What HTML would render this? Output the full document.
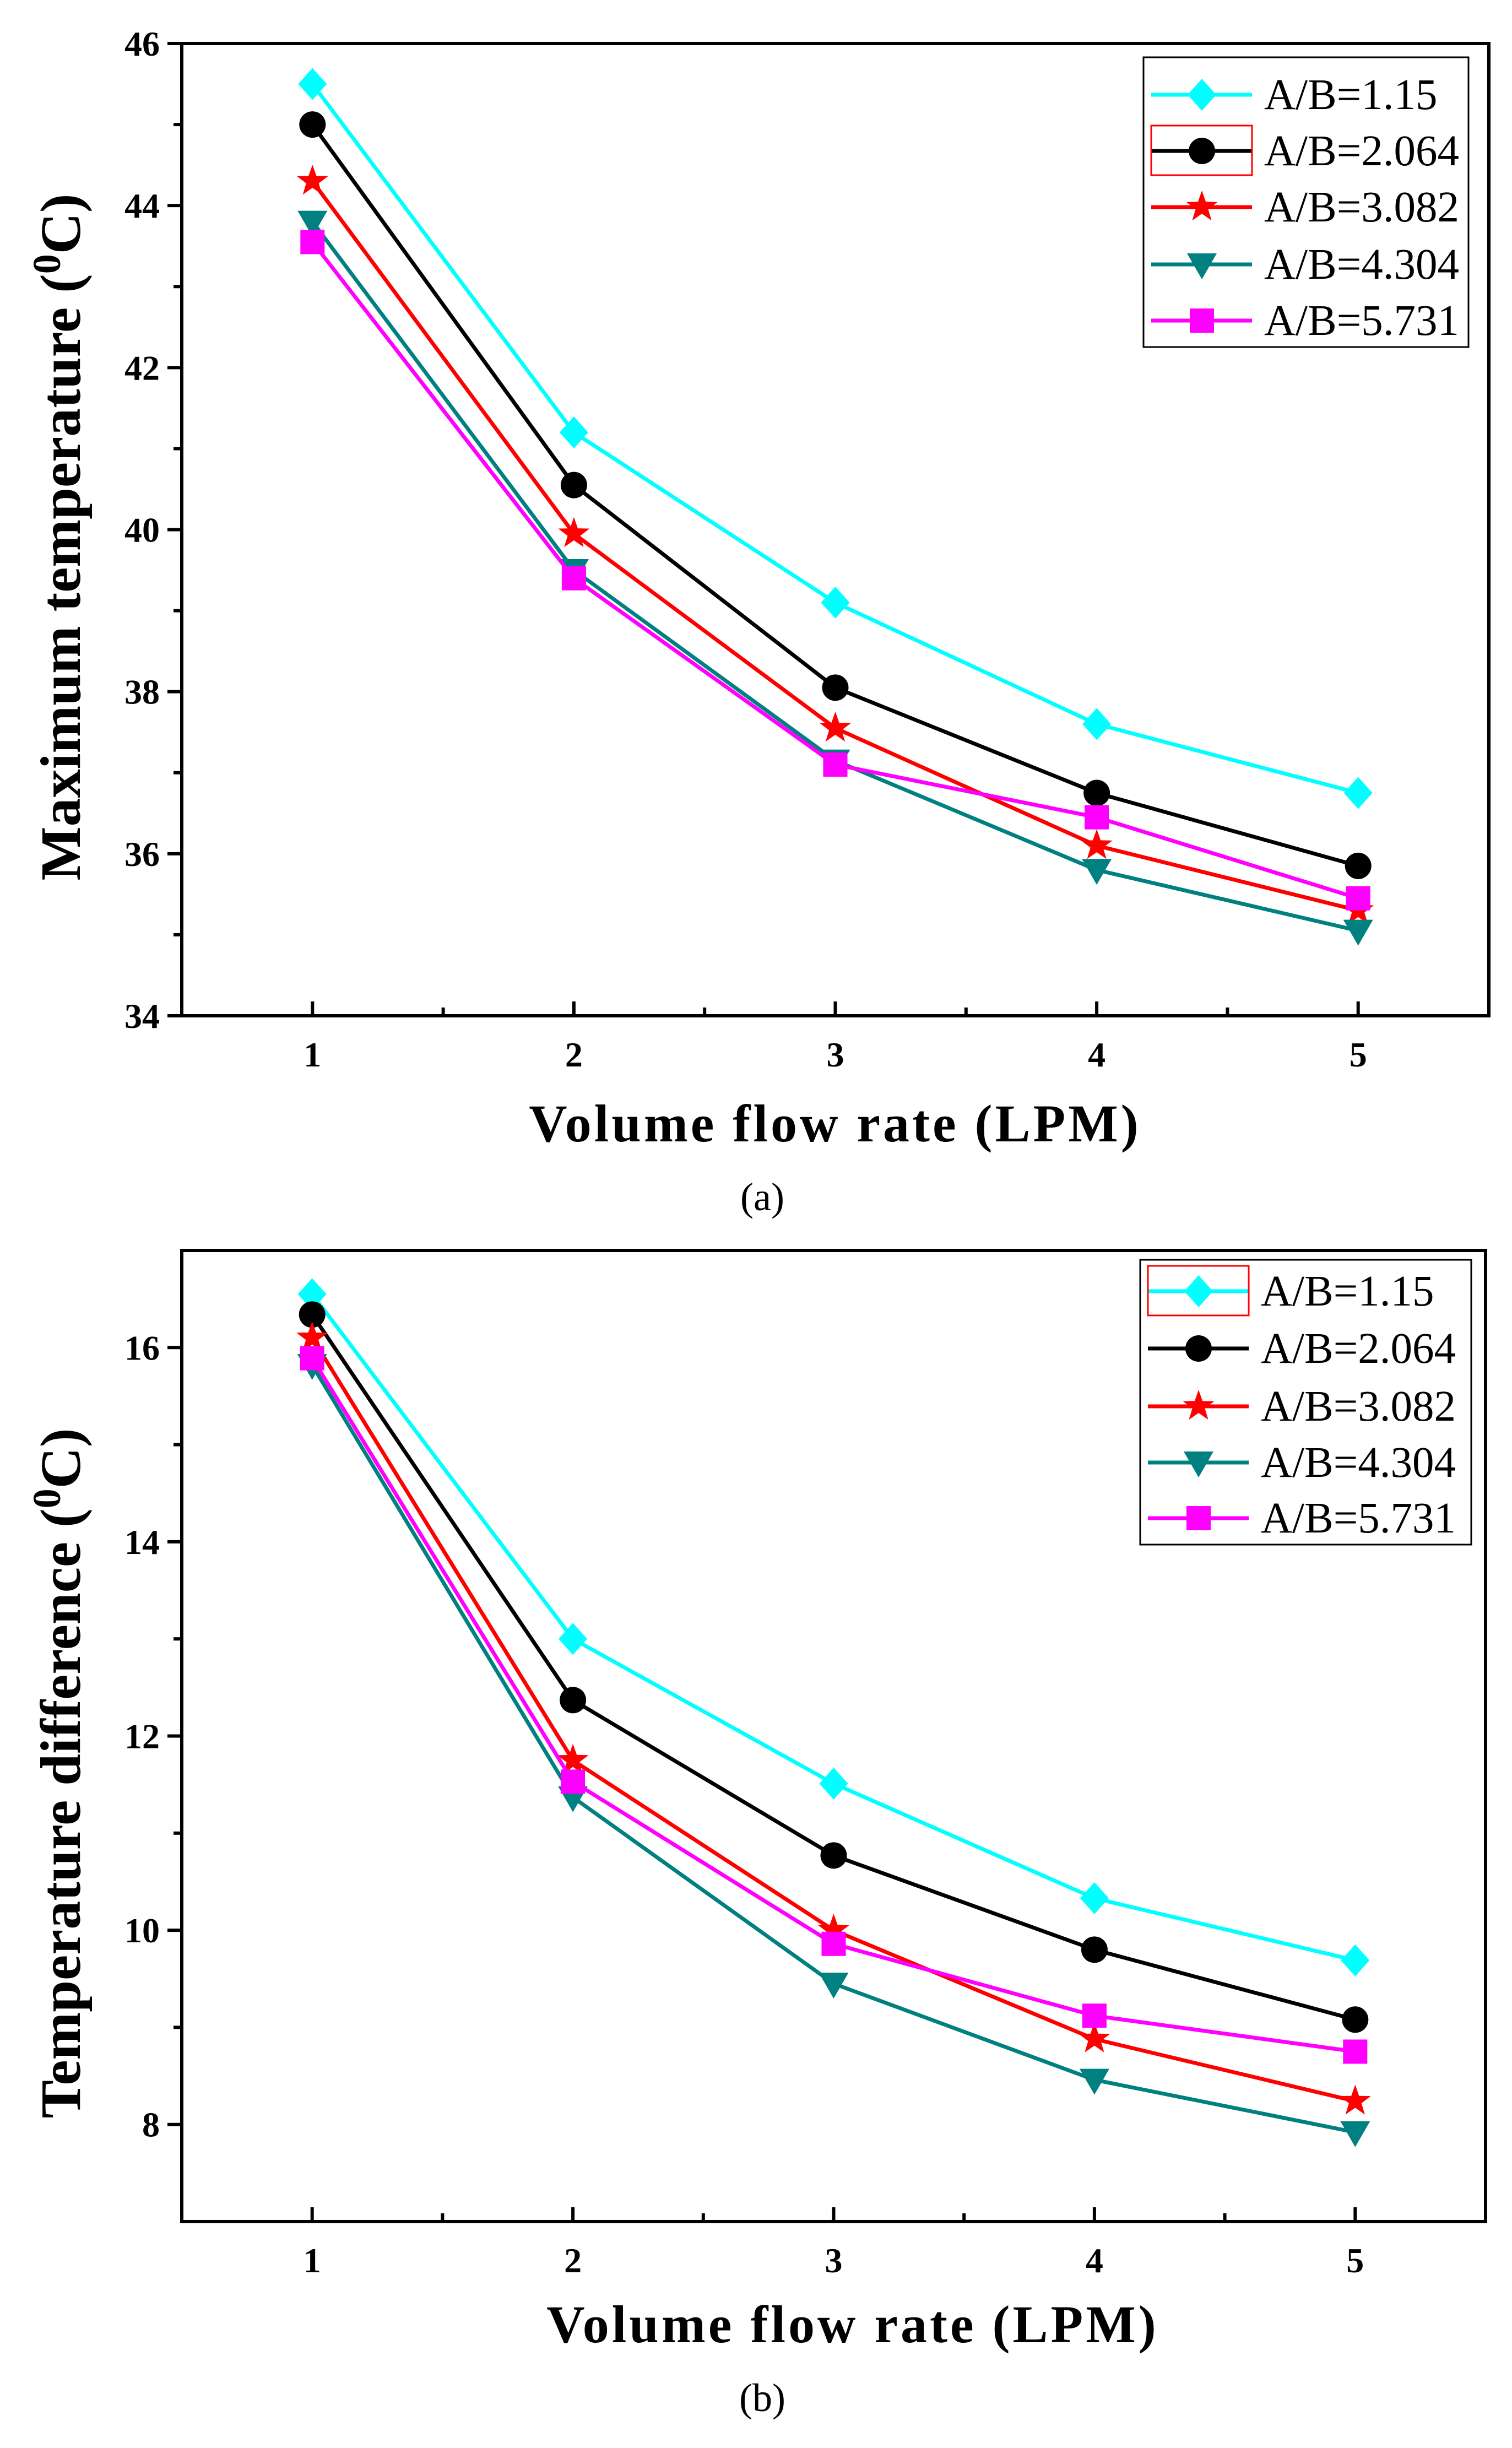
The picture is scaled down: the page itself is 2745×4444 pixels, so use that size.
<!DOCTYPE html>
<html><head><meta charset="utf-8">
<style>
html,body{margin:0;padding:0;background:#fff;}
svg{display:block;font-family:"Liberation Serif",serif;}
</style></head>
<body>
<svg id="fig" width="2745" height="4444" viewBox="0 0 2745 4444" xmlns="http://www.w3.org/2000/svg">
<rect x="0" y="0" width="2745" height="4444" fill="#fff"/>
</svg>
<script>
const categories = [1, 2, 3, 4, 5];
const seriesNames = ["A/B=1.15", "A/B=2.064", "A/B=3.082", "A/B=4.304", "A/B=5.731"];
const maxTempCyan = [45.5, 41.2, 39.1, 37.6, 36.75];
const maxTempBlack = [45.0, 40.55, 38.05, 36.75, 35.85];
const maxTempRed = [44.3, 39.95, 37.55, 36.1, 35.3];
const maxTempTeal = [43.8, 39.5, 37.15, 35.8, 35.05];
const maxTempMagenta = [43.55, 39.4, 37.1, 36.45, 35.45];
const diffCyan = [16.55, 13.0, 11.51, 10.33, 9.69];
const diffBlack = [16.34, 12.37, 10.77, 9.8, 9.08];
const diffRed = [16.1, 11.75, 10.0, 8.88, 8.24];
const diffTeal = [15.82, 11.37, 9.45, 8.46, 7.92];
const diffMagenta = [15.89, 11.53, 9.86, 9.12, 8.75];
const yTicksA = [34, 36, 38, 40, 42, 44, 46];
const yTicksB = [8, 10, 12, 14, 16];
const xTicks = [1, 2, 3, 4, 5];

const NS = "http://www.w3.org/2000/svg";
const svg = document.getElementById("fig");
function mk(tag, attrs, parent, text) {
  const e = document.createElementNS(NS, tag);
  for (const k in attrs) e.setAttribute(k, attrs[k]);
  if (text !== undefined) e.textContent = text;
  (parent || svg).appendChild(e);
  return e;
}
const colors = ["#00ffff", "#000000", "#ff0000", "#008080", "#ff00ff"];
const shapes = ["diamond", "circle", "star", "tri", "square"];

function marker(g, shape, cx, cy, color) {
  let el;
  const r = 29;
  if (shape === "diamond") el = mk("polygon", {points: `${cx},${cy-r} ${cx+r-3},${cy} ${cx},${cy+r} ${cx-r+3},${cy}`, fill: color}, g);
  else if (shape === "circle") el = mk("circle", {cx: cx, cy: cy, r: 24, fill: color}, g);
  else if (shape === "square") el = mk("rect", {x: cx-22, y: cy-22, width: 44, height: 44, fill: color}, g);
  else if (shape === "tri") el = mk("polygon", {points: `${cx-27},${cy-20} ${cx+27},${cy-20} ${cx},${cy+27}`, fill: color}, g);
  else {
    let p = [];
    for (let i = 0; i < 10; i++) {
      const a = -Math.PI/2 + i*Math.PI/5, rr = i%2 ? 12 : 30;
      p.push((cx + rr*Math.cos(a)).toFixed(1) + "," + (cy + rr*Math.sin(a)).toFixed(1));
    }
    el = mk("polygon", {points: p.join(" "), fill: color}, g);
  }
  
  
}

function chart(cfg) {
  const g = mk("g", {});
  
  
  const {L, R, T, B, ymin, ymax} = cfg;
  const xs = v => L + (v - 0.5) / 5 * (R - L);
  const ys = v => B - (v - ymin) / (ymax - ymin) * (B - T);
  cfg.series.forEach((vals, si) => {
    const sg = mk("g", {}, g);
    
    
    const pts = vals.map((v, i) => xs(categories[i]) + "," + ys(v)).join(" ");
    const pl = mk("polyline", {points: pts, fill: "none", stroke: colors[si], "stroke-width": 7}, sg);
    
    
    vals.forEach((v, i) => marker(sg, shapes[si], xs(categories[i]), ys(v), colors[si]));
  });
  const fr = mk("rect", {x: L, y: T, width: R - L, height: B - T, fill: "none", stroke: "#000", "stroke-width": 6}, g);
  
  
  const xa = mk("g", {}, g);
  
  
  xTicks.forEach(t => {
    mk("line", {x1: xs(t), x2: xs(t), y1: B, y2: B - 26, stroke: "#000", "stroke-width": 6}, xa);
    if (t < 5) mk("line", {x1: xs(t + 0.5), x2: xs(t + 0.5), y1: B, y2: B - 15, stroke: "#000", "stroke-width": 6}, xa);
    const tl = mk("text", {x: xs(t), y: B + 92, "text-anchor": "middle", "font-size": 64, "font-weight": "bold"}, xa, String(t));
    
    
  });
  const ya = mk("g", {}, g);
  
  
  cfg.yTicks.forEach(t => {
    mk("line", {x1: L, x2: L - 26, y1: ys(t), y2: ys(t), stroke: "#000", "stroke-width": 6}, ya);
    if (t + 1 < ymax) mk("line", {x1: L, x2: L - 15, y1: ys(t + 1), y2: ys(t + 1), stroke: "#000", "stroke-width": 6}, ya);
    const tl = mk("text", {x: L - 40, y: ys(t) + 22, "text-anchor": "end", "font-size": 64, "font-weight": "bold"}, ya, String(t));
    
    
  });
  const xt = mk("text", {x: cfg.xtX, y: cfg.xtY, "text-anchor": "middle", "font-size": 96, "font-weight": "bold", "letter-spacing": 5}, g, "Volume flow rate (LPM)");
  
  
  const yt = mk("text", {x: 0, y: 0, "text-anchor": "middle", "font-size": 104, "font-weight": "bold", transform: `translate(${cfg.ytX},${cfg.ytY}) rotate(-90)`}, g);
  
  
  mk("tspan", {}, yt, cfg.ytitle + " (");
  mk("tspan", {dy: -36, "font-size": 72}, yt, "0");
  mk("tspan", {dy: 36}, yt, "C)");
  const cap = mk("text", {x: 1384, y: cfg.capY, "text-anchor": "middle", "font-size": 72}, g, cfg.caption);
  
  
  const lg = mk("g", {}, g);
  
  
  mk("rect", {x: cfg.lg[0], y: cfg.lg[1], width: cfg.lg[2], height: cfg.lg[3], fill: "#fff", stroke: "#000", "stroke-width": 3}, lg);
  seriesNames.forEach((n, i) => {
    const le = mk("g", {}, lg);
    
    
    const y = cfg.lgRows[i];
    const x0 = cfg.lg[0] + 14;
    mk("line", {x1: x0, x2: x0 + 183, y1: y, y2: y, stroke: colors[i], "stroke-width": 7}, le);
    marker(le, shapes[i], x0 + 92, y, colors[i]);
    if (i === cfg.redBox) mk("rect", {x: x0, y: y - 46, width: 183, height: 90, fill: "none", stroke: "#ff0000", "stroke-width": 3}, le);
    mk("text", {x: x0 + 205, y: y + 26, "font-size": 79}, le, n);
  });
}

chart({name: "chart-max-temperature", L: 330, R: 2703, T: 79, B: 1844, ymin: 34, ymax: 46, yTicks: yTicksA,
  series: [maxTempCyan, maxTempBlack, maxTempRed, maxTempTeal, maxTempMagenta],
  xtX: 1516, xtY: 2072, ytX: 145, ytY: 975, ytitle: "Maximum temperature", caption: "(a)", capY: 2197,
  lg: [2076, 104, 590, 526], lgRows: [172, 274, 376, 480, 582], redBox: 1});
chart({name: "chart-temperature-difference", L: 330, R: 2697, T: 2270, B: 4033, ymin: 7, ymax: 17, yTicks: yTicksB,
  series: [diffCyan, diffBlack, diffRed, diffTeal, diffMagenta],
  xtX: 1548, xtY: 4252, ytX: 145, ytY: 3219, ytitle: "Temperature difference", caption: "(b)", capY: 4377,
  lg: [2070, 2287, 601, 517], lgRows: [2344, 2448, 2553, 2655, 2756], redBox: 0});
</script>
</body></html>
